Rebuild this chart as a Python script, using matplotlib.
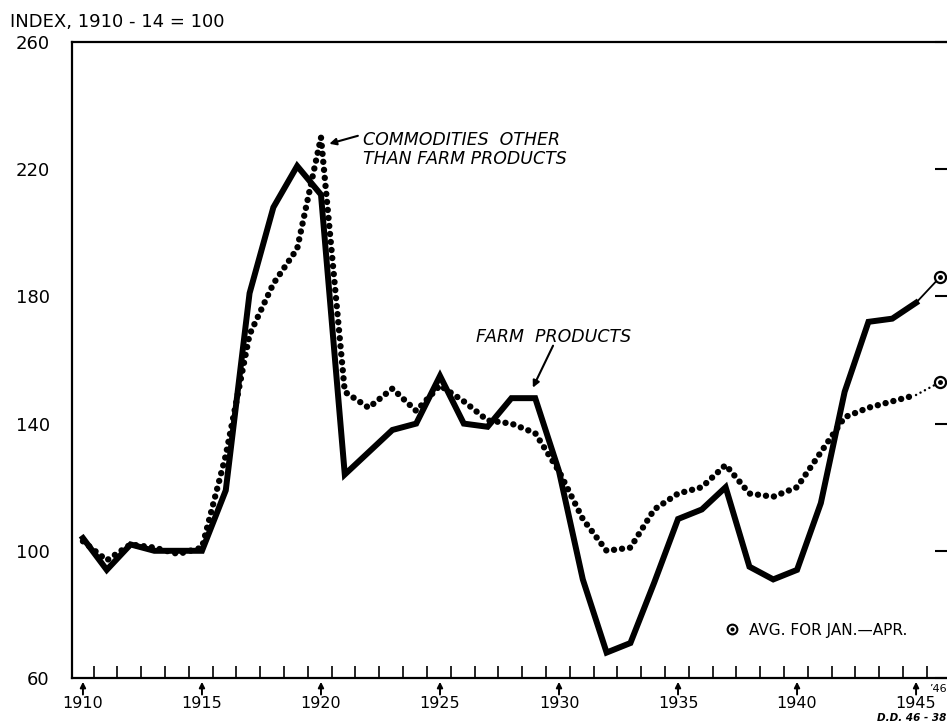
import numpy as np
import matplotlib.pyplot as plt
from matplotlib.lines import Line2D

plt.rcParams['font.family'] = ['DejaVu Sans']

# annual index, 1910-14 = 100
years = np.arange(1910, 1946)
farm = [104, 94, 102, 100, 100, 100, 119, 181, 208, 221, 212, 124, 131, 138,
        140, 155, 140, 139, 148, 148, 125, 91, 68, 71, 90, 110, 113, 120, 95,
        91, 94, 115, 150, 172, 173, 178]
other = [103, 97, 102, 101, 99, 101, 130, 168, 184, 195, 230, 150, 145, 151,
         144, 152, 147, 141, 140, 137, 125, 110, 100, 101, 113, 118, 120, 127,
         118, 117, 120, 131, 142, 145, 147, 149]

# average for Jan.-Apr. 1946
year_46 = 1946
farm_46 = 186
other_46 = 153

label_years = [1910, 1915, 1920, 1925, 1930, 1935, 1940, 1945]
y_ticks = [60, 100, 140, 180, 220, 260]

fig = plt.figure(figsize=(9.47, 7.26), dpi=100)
ax = fig.add_axes([72 / 947, 1 - 678 / 726, 875 / 947, 636 / 726])

# main series
ax.plot(years, farm, color='k', lw=4.3, solid_joinstyle='miter', zorder=3)
ax.plot(years, other, color='k', lw=4.6, ls=(0, (0.01, 1.25)),
        dash_capstyle='round', zorder=4)

# 1945 -> 1946 partial-year segments
ax.plot([years[-1], year_46], [farm[-1], farm_46], color='k', lw=1.3, zorder=3)
ax.plot([years[-1], year_46], [other[-1], other_46], color='k', lw=1.8,
        ls=(0, (0.01, 2.0)), dash_capstyle='round', zorder=3)
ax.plot([year_46, year_46], [farm_46, other_46], ls='none', marker='o',
        ms=8, mfc='white', mec='k', mew=1.6, zorder=5)
ax.plot([year_46, year_46], [farm_46, other_46], ls='none', marker='o',
        ms=2.5, color='k', zorder=6)

ax.set_xlim(1909.54, 1946.3)
ax.set_ylim(60, 260)

for side in ['left', 'bottom', 'top']:
    ax.spines[side].set_linewidth(1.6)
ax.spines['right'].set_visible(False)

ax.set_yticks(y_ticks)
ax.set_yticklabels([str(v) for v in y_ticks], fontsize=13)
ax.tick_params(axis='y', left=False, right=True, direction='in', length=9,
               width=1.5, pad=16)

ax.set_xticks([])
ax.set_xticks(years + 0.45, minor=True)
ax.tick_params(axis='x', which='minor', bottom=True, direction='in',
               length=9, width=1.2)

# year labels with small arrows under the axis
tr = ax.get_xaxis_transform()
for yr in label_years:
    ax.annotate('', xy=(yr, -0.006), xytext=(yr, -0.026), xycoords=tr,
                textcoords=tr, annotation_clip=False,
                arrowprops=dict(arrowstyle='-|>', color='k', lw=1.4,
                                mutation_scale=8, shrinkA=0, shrinkB=0))
    ax.text(yr, -0.04, str(yr), transform=tr, ha='center', va='center',
            fontsize=11.5)
ax.text(1946.28, -0.018, "\u201946", transform=tr, ha='right', va='center',
        fontsize=8)

# annotations
ax.text(1921.75, 226.3, 'COMMODITIES  OTHER\nTHAN FARM PRODUCTS',
        fontsize=12.5, style='italic', ha='left', va='center', linespacing=1.05)
ax.annotate('', xy=(1920.35, 228.0), xytext=(1921.55, 230.5),
            arrowprops=dict(arrowstyle='-|>', color='k', lw=1.5,
                            mutation_scale=10, shrinkA=0, shrinkB=0))
ax.text(1926.5, 167.2, 'FARM  PRODUCTS', fontsize=12.5, style='italic',
        ha='left', va='center')
ax.annotate('', xy=(1928.9, 151.3), xytext=(1929.75, 164.5),
            arrowprops=dict(arrowstyle='-|>', color='k', lw=1.5,
                            mutation_scale=10, shrinkA=0, shrinkB=0))

handle = (Line2D([], [], ls='none', marker='o', ms=7, mfc='white', mec='k',
                 mew=1.5),
          Line2D([], [], ls='none', marker='o', ms=2, color='k'))
ax.legend([handle], ['AVG. FOR JAN.\u2014APR.'], loc='center left',
          bbox_to_anchor=((718 - 72) / 875, (678 - 630) / 636),
          frameon=False, handlelength=0.8, handletextpad=0.7, borderpad=0,
          prop={'size': 11})

fig.text(10 / 947, 1 - 22 / 726, 'INDEX, 1910 - 14 = 100', fontsize=13,
         ha='left', va='center')
fig.text(0.999, 1 - 718 / 726, 'D.D. 46 - 38', fontsize=7.5,
         style='italic', weight='bold', ha='right', va='center')

fig.savefig('out.png', dpi=100)
